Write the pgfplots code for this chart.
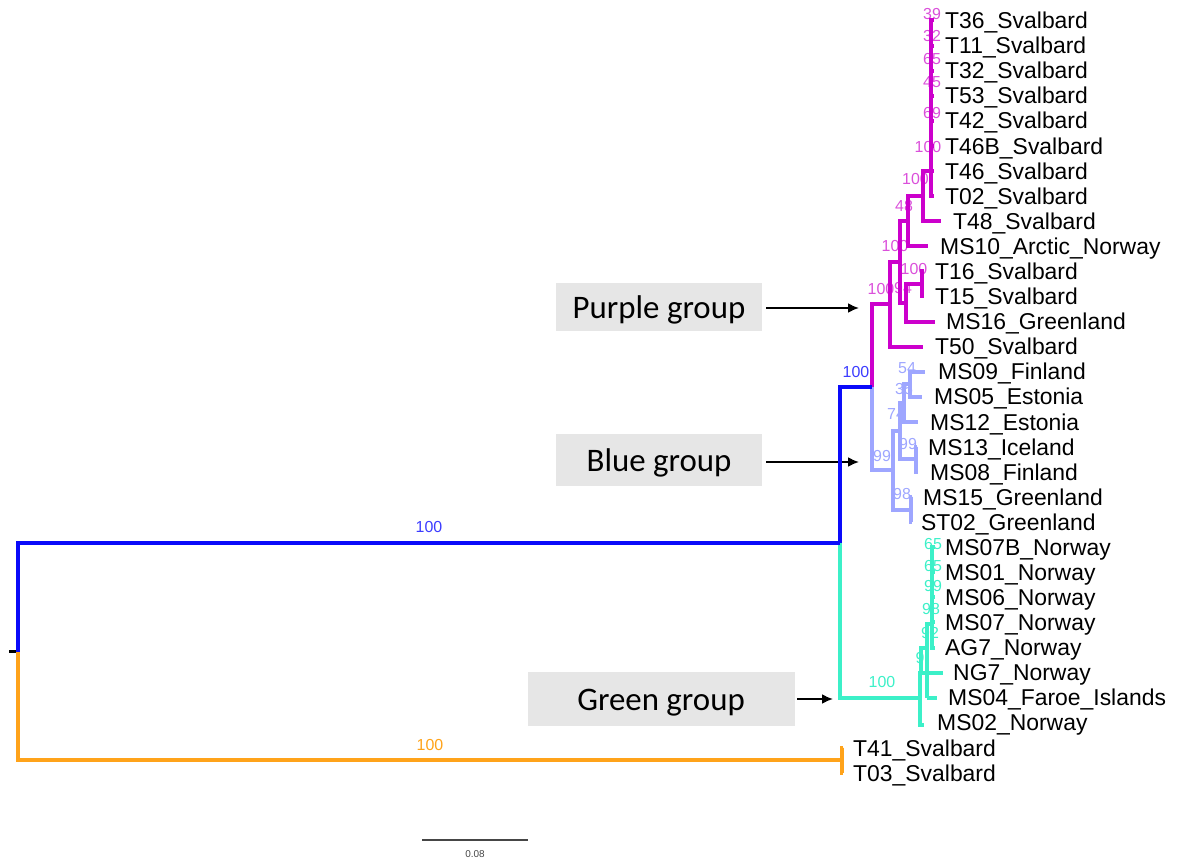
\documentclass[border=0pt]{standalone}
\usepackage{fontspec}
\setmainfont{Liberation Sans}
\newfontfamily\calibri{Carlito}
\usepackage{pgfplots}
\pgfplotsset{compat=1.18}
\usetikzlibrary{arrows.meta}

\definecolor{purp}{RGB}{204,0,204}
\definecolor{purplab}{RGB}{218,80,218}
\definecolor{deepblue}{RGB}{10,10,250}
\definecolor{bluelab}{RGB}{60,60,255}
\definecolor{lblue}{RGB}{158,166,255}
\definecolor{turq}{RGB}{60,240,200}
\definecolor{orng}{RGB}{255,163,26}
\definecolor{boxgray}{RGB}{230,230,230}
\definecolor{scalegray}{RGB}{70,70,70}

\tikzset{
  tree/.style={line width=4bp, line join=miter, line cap=butt},
  % cap-height middle of 23bp Liberation Sans sits on the branch
  leaflab/.style={anchor=base west, inner sep=0pt, yshift=-8.2bp,
    font=\fontsize{23}{23}\selectfont},
  bootlab/.style={anchor=base, inner sep=0pt, yshift=-5.7bp,
    font=\fontsize{16}{16}\selectfont},
}

% branch: parent (x,y) -> elbow -> child (x,y)
\newcommand{\br}[5]{\addplot[tree,#1] coordinates {(#2,#3) (#2,#5) (#4,#5)};}
% short tip stub on a comb
\newcommand{\stub}[4]{\addplot[tree,#1] coordinates {(#2,#4) (#3,#4)};}
\newcommand{\leaf}[3]{\node[leaflab] at (axis cs:#1,#2) {#3};}
\newcommand{\boot}[4]{\node[bootlab,text=#1] at (axis cs:#2,#3) {#4};}

\begin{document}
\begin{tikzpicture}
\begin{axis}[
  scale only axis, width=1180bp, height=861bp,
  xmin=0, xmax=1180, ymin=0, ymax=861, y dir=reverse,
  hide axis, clip=false,
]

% ---- group boxes and arrows
\fill[boxgray] (axis cs:556,283) rectangle (axis cs:762,331);
\fill[boxgray] (axis cs:556,434) rectangle (axis cs:762,486);
\fill[boxgray] (axis cs:528,672) rectangle (axis cs:795,726);
\node[anchor=base, inner sep=0pt, font=\calibri\fontsize{33}{33}\selectfont] at (axis cs:659,318) {Purple group};
\node[anchor=base, inner sep=0pt, font=\calibri\fontsize{33}{33}\selectfont] at (axis cs:659,471) {Blue group};
\node[anchor=base, inner sep=0pt, font=\calibri\fontsize{33}{33}\selectfont] at (axis cs:661,710) {Green group};
\draw[line width=2bp, -{Latex[length=11bp,width=10bp]}] (axis cs:766,308) -- (axis cs:859,308);
\draw[line width=2bp, -{Latex[length=11bp,width=10bp]}] (axis cs:766,462) -- (axis cs:859,462);
\draw[line width=2bp, -{Latex[length=11bp,width=10bp]}] (axis cs:797,699) -- (axis cs:833,699);

% ---- support values
\boot{purplab}{932}{14}{39}
\boot{purplab}{932}{36}{32}
\boot{purplab}{932}{59}{65}
\boot{purplab}{932}{82}{45}
\boot{purplab}{932}{113}{69}
\boot{purplab}{928}{147}{100}
\boot{purplab}{915.5}{179}{100}
\boot{purplab}{904}{206}{48}
\boot{purplab}{895}{246}{100}
\boot{purplab}{914}{269}{100}
\boot{purplab}{881}{289}{100}
\boot{purplab}{903}{288}{94}
\boot{lblue}{907}{368}{54}
\boot{lblue}{904}{389}{35}
\boot{lblue}{896}{414}{74}
\boot{lblue}{908}{444}{99}
\boot{lblue}{902}{494}{98}
\boot{lblue}{882}{456}{99}
\boot{bluelab}{856}{372}{100}
\boot{bluelab}{429}{527}{100}
\boot{orng}{430}{745}{100}
\boot{turq}{882}{682}{100}
\boot{turq}{933}{544}{65}
\boot{turq}{933}{566}{65}
\boot{turq}{933}{586}{99}
\boot{turq}{931}{609}{98}
\boot{turq}{930}{633}{92}
\boot{turq}{920}{658}{9}

% ---- root
\addplot[black, line width=3bp] coordinates {(9,651.5) (18,651.5)};
\br{orng}{18}{651.5}{842}{760.35}
\br{orng}{842}{760.35}{843}{747.8}
\br{orng}{842}{760.35}{843}{772.9}
\br{turq}{840}{542.6}{920}{697.85}

% ---- purple clade
\br{purp}{872}{387.3}{890}{304.2}
\br{purp}{890}{304.2}{900}{262}
\br{purp}{890}{304.2}{923}{346.5}
\br{purp}{900}{262}{908}{221.2}
\br{purp}{900}{262}{906}{302.7}
\br{purp}{906}{302.7}{922}{283.85}
\br{purp}{906}{302.7}{935}{321.5}
\br{purp}{922}{283.85}{924}{271.3}
\br{purp}{922}{283.85}{924}{296.4}
\br{purp}{908}{221.2}{923}{196.2}
\br{purp}{908}{221.2}{928}{246.2}
\br{purp}{923}{196.2}{931}{171.2}
\br{purp}{923}{196.2}{941}{221.1}
\addplot[tree, purp, line cap=rect] coordinates {(931,20.5) (931,196.1)};
\stub{purp}{931}{934}{20.5}
\stub{purp}{931}{934}{45.6}
\stub{purp}{931}{934}{70.7}
\stub{purp}{931}{934}{95.7}
\stub{purp}{931}{934}{120.8}
\stub{purp}{931}{934}{145.9}
\stub{purp}{931}{934}{171.0}
\stub{purp}{931}{934}{196.1}

% ---- light blue clade
\br{lblue}{872}{387.3}{893}{470.4}
\br{lblue}{893}{470.4}{900}{431.2}
\br{lblue}{893}{470.4}{911}{509.55}
\br{lblue}{900}{431.2}{904}{403}
\br{lblue}{900}{431.2}{916}{459.4}
\br{lblue}{904}{403}{910}{384.15}
\br{lblue}{904}{403}{918}{421.8}
\br{lblue}{910}{384.15}{925}{371.6}
\br{lblue}{910}{384.15}{922}{396.7}
\br{lblue}{916}{459.4}{917}{446.9}
\br{lblue}{916}{459.4}{918}{471.9}
\br{lblue}{911}{509.55}{912}{497}
\br{lblue}{911}{509.55}{912}{522.1}

% ---- green clade
\br{turq}{920}{697.85}{921}{673}
\br{turq}{920}{697.85}{924}{725}
\br{turq}{921}{673}{927}{648.3}
\br{turq}{921}{673}{943}{672.6}
\br{turq}{927}{648.3}{932}{624}
\br{turq}{927}{648.3}{927}{697.7}
\addplot[tree, turq] coordinates {(927,697.7) (937,697.7)};
\addplot[tree, turq, line cap=rect] coordinates {(932,547.2) (932,647.5)};
\stub{turq}{932}{935}{547.2}
\stub{turq}{932}{935}{572.3}
\stub{turq}{932}{935}{597.3}
\stub{turq}{932}{935}{622.4}
\stub{turq}{932}{935}{647.5}

% ---- deep blue backbone
\br{deepblue}{18}{651.5}{840}{542.6}
\br{deepblue}{840}{542.6}{872}{387.3}

% ---- tip labels
\leaf{945}{20.5}{T36\_Svalbard}
\leaf{945}{45.6}{T11\_Svalbard}
\leaf{945}{70.7}{T32\_Svalbard}
\leaf{945}{95.7}{T53\_Svalbard}
\leaf{945}{120.8}{T42\_Svalbard}
\leaf{945}{145.9}{T46B\_Svalbard}
\leaf{945}{171.0}{T46\_Svalbard}
\leaf{945}{196.1}{T02\_Svalbard}
\leaf{953}{221.1}{T48\_Svalbard}
\leaf{940}{246.2}{MS10\_Arctic\_Norway}
\leaf{935}{271.3}{T16\_Svalbard}
\leaf{935}{296.4}{T15\_Svalbard}
\leaf{946}{321.5}{MS16\_Greenland}
\leaf{935}{346.5}{T50\_Svalbard}
\leaf{938}{371.6}{MS09\_Finland}
\leaf{934}{396.7}{MS05\_Estonia}
\leaf{930}{421.8}{MS12\_Estonia}
\leaf{928}{446.9}{MS13\_Iceland}
\leaf{930}{471.9}{MS08\_Finland}
\leaf{923}{497.0}{MS15\_Greenland}
\leaf{921}{522.1}{ST02\_Greenland}
\leaf{945}{547.2}{MS07B\_Norway}
\leaf{945}{572.3}{MS01\_Norway}
\leaf{945}{597.3}{MS06\_Norway}
\leaf{945}{622.4}{MS07\_Norway}
\leaf{945}{647.5}{AG7\_Norway}
\leaf{953}{672.6}{NG7\_Norway}
\leaf{948}{697.7}{MS04\_Faroe\_Islands}
\leaf{937}{722.7}{MS02\_Norway}
\leaf{853}{747.8}{T41\_Svalbard}
\leaf{853}{772.9}{T03\_Svalbard}

% ---- scale bar
\addplot[scalegray, line width=1.5bp] coordinates {(422,840) (528,840)};
\node[anchor=base, inner sep=0pt, yshift=-3.6bp, text=scalegray,
  font=\fontsize{10}{10}\selectfont] at (axis cs:475,854) {0.08};
\end{axis}
\pgfresetboundingbox
\path (0,0) rectangle (1180bp,861bp);
\end{tikzpicture}
\end{document}
